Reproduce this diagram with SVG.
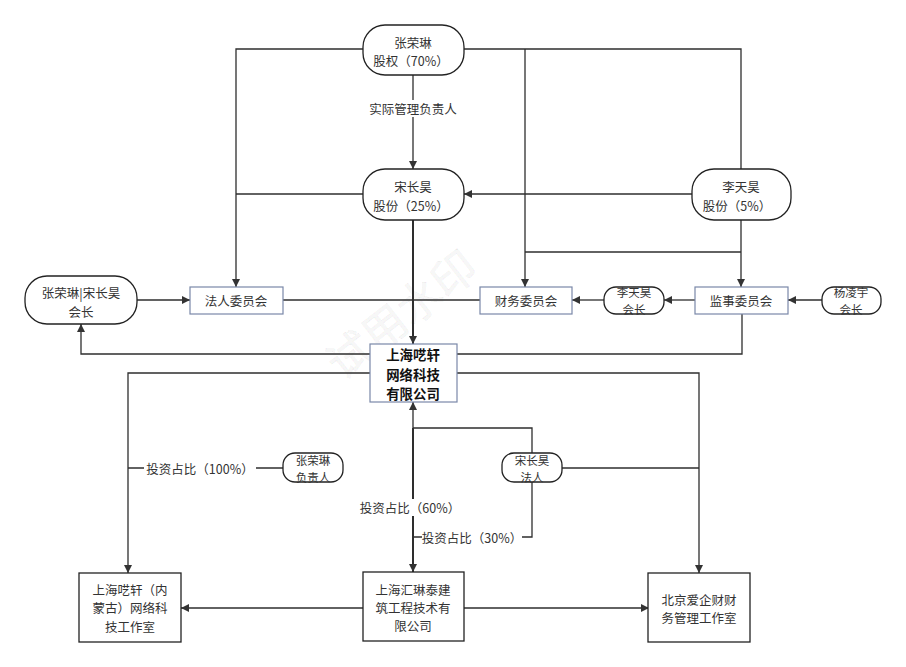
<svg xmlns="http://www.w3.org/2000/svg" width="906" height="667" viewBox="0 0 906 667">
<style>
text{font-family:"Noto Sans CJK SC","Liberation Sans",sans-serif;font-size:12.5px;fill:#333;text-anchor:middle;dominant-baseline:central}
.s{font-size:11.5px}
.b{font-weight:bold;font-size:13.4px;fill:#111}
.ln{fill:none;stroke:#2e2e2e;stroke-width:1.3}
.th{stroke-width:2}
.rr{fill:#fff;stroke:#222;stroke-width:1.3}
.bx{fill:#fff;stroke:#7a88a8;stroke-width:1.2}
.kb{fill:#fff;stroke:#222;stroke-width:1.3}
.lb{fill:#fff}
.wm{font-size:44px;fill:#000;fill-opacity:0.03;stroke:#000;stroke-opacity:0.07;stroke-width:0.8}
</style>
<defs>
<marker id="a" viewBox="0 0 10 10" refX="10" refY="5" markerWidth="8" markerHeight="8" markerUnits="userSpaceOnUse" orient="auto"><path d="M0,0 L10,5 L0,10 z" fill="#333"/></marker>
</defs>
<rect width="906" height="667" fill="#fff"/>
<text class="wm" transform="translate(400,312) rotate(-38)">试用水印</text>
<g id="connectors">
<path class="ln" d="M363,49 H236 V287" marker-end="url(#a)"/>
<path class="ln" d="M363,194 H236"/>
<path class="ln" d="M464,49 H741 V169"/>
<path class="ln" d="M525,49 V287" marker-end="url(#a)"/>
<path class="ln" d="M741,220 V287" marker-end="url(#a)"/>
<path class="ln" d="M741,252 H525"/>
<path class="ln" d="M413,75 V169" marker-end="url(#a)"/>
<path class="ln" d="M692,194 H464" marker-end="url(#a)"/>
<path class="ln th" d="M413,220 V344" marker-end="url(#a)"/>
<path class="ln" d="M137,300 H190" marker-end="url(#a)"/>
<path class="ln" d="M283,300 H480"/>
<path class="ln" d="M604,300 H572" marker-end="url(#a)"/>
<path class="ln" d="M695,300 H664" marker-end="url(#a)"/>
<path class="ln" d="M822,300 H788" marker-end="url(#a)"/>
<path class="ln" d="M742,314 V354 H81 V324" marker-end="url(#a)"/>
<path class="ln" d="M370,373 H128 V573" marker-end="url(#a)"/>
<path class="ln" d="M457,373 H699 V573" marker-end="url(#a)"/>
<path class="ln" d="M283,468 H128"/>
<path class="ln" d="M532,453 V428 H413 V402" marker-end="url(#a)"/>
<path class="ln th" d="M413,428 V572" marker-end="url(#a)"/>
<path class="ln" d="M532,482 V537 H413"/>
<path class="ln" d="M562,468 H699"/>
<path class="ln" d="M363,608 H181" marker-end="url(#a)"/>
<path class="ln" d="M464,608 H649" marker-end="url(#a)"/>
<rect class="lb" x="364" y="100" width="98" height="17"/>
<text x="413" y="108">实际管理负责人</text>
<rect class="lb" x="144" y="460" width="112" height="17"/>
<text x="200" y="468">投资占比（100%）</text>
<rect class="lb" x="360" y="499" width="100" height="17"/>
<text x="410" y="507">投资占比（60%）</text>
<rect class="lb" x="422" y="529" width="100" height="17"/>
<text x="472" y="537">投资占比（30%）</text>
</g>
<g id="n-zhang">
<rect class="rr" x="363" y="25" width="101" height="50" rx="22"/>
<text><tspan x="413" y="41.5">张荣琳</tspan><tspan x="411" y="60">股权（70%）</tspan></text>
</g>
<g id="n-song">
<rect class="rr" x="363" y="169" width="101" height="51" rx="22"/>
<text><tspan x="413" y="186">宋长昊</tspan><tspan x="411" y="204.5">股份（25%）</tspan></text>
</g>
<g id="n-li">
<rect class="rr" x="692" y="169" width="99" height="51" rx="22"/>
<text><tspan x="741" y="186">李天昊</tspan><tspan x="737" y="204.5">股份（5%）</tspan></text>
</g>
<g id="n-chair">
<rect class="rr" x="25" y="276" width="112" height="48" rx="22"/>
<text><tspan x="81" y="292">张荣琳|宋长昊</tspan><tspan x="81" y="310.5">会长</tspan></text>
</g>
<g id="n-faren">
<rect class="bx" x="190" y="287" width="93" height="27"/>
<text x="236" y="300.5">法人委员会</text>
</g>
<g id="n-caiwu">
<rect class="bx" x="480" y="287" width="92" height="27"/>
<text x="526" y="300.5">财务委员会</text>
</g>
<g id="n-lihz">
<rect class="rr" x="604" y="287" width="60" height="27" rx="12"/>
<text class="s"><tspan x="634" y="292">李天昊</tspan><tspan x="634" y="309">会长</tspan></text>
</g>
<g id="n-jianshi">
<rect class="bx" x="695" y="287" width="93" height="27"/>
<text x="741" y="300.5">监事委员会</text>
</g>
<g id="n-yang">
<rect class="rr" x="822" y="287" width="59" height="27" rx="12"/>
<text class="s"><tspan x="851" y="292">杨凌宇</tspan><tspan x="851" y="309">会长</tspan></text>
</g>
<g id="n-main">
<rect class="bx" x="370" y="344" width="87" height="58"/>
<text class="b"><tspan x="413" y="354">上海呓轩</tspan><tspan x="413" y="373.5">网络科技</tspan><tspan x="413" y="393">有限公司</tspan></text>
</g>
<g id="n-zhangfz">
<rect class="rr" x="283" y="453" width="60" height="29" rx="12"/>
<text class="s"><tspan x="313" y="459.5">张荣琳</tspan><tspan x="313" y="476.5">负责人</tspan></text>
</g>
<g id="n-songfr">
<rect class="rr" x="502" y="453" width="60" height="29" rx="12"/>
<text class="s"><tspan x="532" y="459.5">宋长昊</tspan><tspan x="532" y="476.5">法人</tspan></text>
</g>
<g id="n-nmg">
<rect class="kb" x="79" y="573" width="102" height="69"/>
<text><tspan x="130" y="589">上海呓轩（内</tspan><tspan x="130" y="607.3">蒙古）网络科</tspan><tspan x="130" y="625.6">技工作室</tspan></text>
</g>
<g id="n-huilin">
<rect class="kb" x="363" y="572" width="101" height="69"/>
<text><tspan x="413" y="588.5">上海汇琳泰建</tspan><tspan x="413" y="606.8">筑工程技术有</tspan><tspan x="413" y="625.1">限公司</tspan></text>
</g>
<g id="n-bj">
<rect class="kb" x="648" y="573" width="102" height="69"/>
<text><tspan x="699" y="598.5">北京爱企财财</tspan><tspan x="699" y="616.8">务管理工作室</tspan></text>
</g>
</svg>
